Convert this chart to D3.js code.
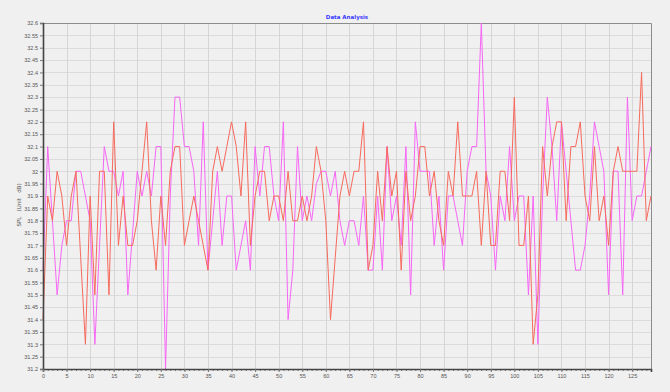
<!DOCTYPE html>
<html>
<head>
<meta charset="utf-8">
<script src="https://cdn.jsdelivr.net/npm/d3@7"></script>
<style>
  html, body { margin: 0; padding: 0; background: #f0f0f0; }
  svg { display: block; }
</style>
</head>
<body>
<div id="container"></div>
<script>
let w = 670;
let h = 392;
let margin = { left: 43, right: 19, top: 23, bottom: 23 };

// data, one value per sample index 0..129
let chartTitle = "Data Analysis";
let yLabel = "SPL   (Unit   dB)";
let yTicks = d3.range(31.2, 32.6001, 0.05);
let xTicks = d3.range(0, 126, 5);

let redSeries = [
  31.4, 31.9, 31.8, 32.0, 31.9, 31.7, 31.9, 32.0, 31.65, 31.3,
  31.9, 31.5, 32.0, 32.0, 31.5, 32.2, 31.7, 31.9, 31.7, 31.7,
  31.8, 32.0, 32.2, 31.8, 31.6, 31.9, 31.7, 32.0, 32.1, 32.1,
  31.7, 31.8, 31.9, 31.8, 31.7, 31.6, 32.0, 32.1, 32.0, 32.1,
  32.2, 32.1, 31.9, 32.2, 31.7, 31.9, 32.0, 32.0, 31.8, 31.9,
  31.9, 31.8, 32.0, 31.8, 31.8, 31.9, 31.8, 31.9, 32.1, 32.0,
  31.8, 31.4, 31.65, 31.9, 32.0, 31.9, 32.0, 32.0, 32.2, 31.6,
  31.7, 32.0, 31.8, 32.1, 31.9, 32.0, 31.6, 32.0, 31.8, 31.9,
  32.1, 32.1, 31.9, 32.0, 31.8, 31.7, 32.0, 31.9, 32.2, 31.9,
  31.9, 31.9, 32.0, 31.7, 32.0, 31.7, 31.7, 32.0, 32.0, 31.8,
  32.3, 31.7, 31.7, 31.9, 31.3, 31.5, 32.1, 31.9, 32.1, 32.2,
  32.2, 31.8, 32.1, 32.1, 32.2, 31.9, 31.8, 32.1, 31.8, 31.9,
  31.7, 32.0, 32.1, 32.0, 32.0, 32.0, 32.0, 32.4, 31.8, 31.9
];

let magentaSeries = [
  31.6, 32.1, 31.8, 31.5, 31.7, 31.8, 31.8, 32.0, 32.0, 31.9,
  31.8, 31.3, 31.7, 32.1, 32.0, 32.0, 31.9, 32.0, 31.5, 31.75,
  32.0, 31.9, 32.0, 31.9, 32.1, 32.1, 31.2, 31.9, 32.3, 32.3,
  32.1, 32.1, 32.0, 31.7, 32.2, 31.6, 31.8, 32.0, 31.7, 31.9,
  31.9, 31.6, 31.7, 31.8, 31.6, 32.1, 31.9, 32.1, 32.1, 31.9,
  31.8, 32.2, 31.4, 31.6, 32.1, 31.8, 31.9, 31.8, 31.95, 32.0,
  32.0, 31.9, 32.0, 31.8, 31.7, 31.8, 31.8, 31.7, 31.9, 31.6,
  31.6, 31.9, 31.6, 32.1, 31.8, 31.9, 31.7, 32.1, 31.5, 32.2,
  32.0, 32.0, 32.0, 31.7, 31.9, 31.6, 31.9, 31.9, 31.8, 31.7,
  32.0, 32.1, 32.1, 32.6, 32.0, 31.9, 31.6, 31.9, 31.8, 32.1,
  31.8, 31.9, 31.9, 31.5, 31.9, 31.3, 31.9, 32.3, 32.1, 31.8,
  32.2, 32.0, 31.8, 31.6, 31.6, 31.7, 31.9, 32.2, 32.1, 32.0,
  31.5, 32.0, 32.0, 31.5, 32.3, 31.8, 31.9, 31.9, 32.0, 32.1
];

let viz = d3.select("#container")
  .append("svg")
  .attr("width", w)
  .attr("height", h)
  .style("font-family", "'DejaVu Sans', sans-serif");

viz.append("rect").attr("width", w).attr("height", h).attr("fill", "#f0f0f0");

let xScale = d3.scaleLinear().domain([0, redSeries.length - 1]).range([margin.left, w - margin.right]);
let yScale = d3.scaleLinear().domain([31.2, 32.6]).range([h - margin.bottom, margin.top]);

// grid
let gridGroup = viz.append("g").attr("class", "grid");
gridGroup.selectAll(".hgrid").data(yTicks).enter().append("line")
  .attr("x1", margin.left).attr("x2", w - margin.right)
  .attr("y1", d => Math.round(yScale(d)) + 0.5).attr("y2", d => Math.round(yScale(d)) + 0.5)
  .attr("stroke", "#dcdcdc").attr("stroke-width", 1);
gridGroup.selectAll(".vgrid").data(xTicks.filter(d => d > 0)).enter().append("line")
  .attr("x1", d => Math.round(xScale(d)) + 0.5).attr("x2", d => Math.round(xScale(d)) + 0.5)
  .attr("y1", margin.top).attr("y2", h - margin.bottom)
  .attr("stroke", "#d6d6d6").attr("stroke-width", 1);

// frame top + right
viz.append("path")
  .attr("d", "M" + margin.left + "," + (margin.top + 0.5) + "H" + (w - margin.right + 0.5) + "V" + (h - margin.bottom))
  .attr("fill", "none").attr("stroke", "#8c8c8c").attr("stroke-width", 1);

// lines
let line = d3.line().x((d, i) => xScale(i)).y(d => yScale(d));
viz.append("path").datum(magentaSeries)
  .attr("d", line).attr("fill", "none")
  .attr("stroke", "#f766f5").attr("stroke-width", 1);
viz.append("path").datum(redSeries)
  .attr("d", line).attr("fill", "none")
  .attr("stroke", "#f66a5c").attr("stroke-width", 1);

// y axis
let yAxis = d3.axisLeft(yScale).tickValues(yTicks).tickSize(3).tickPadding(2)
  .tickFormat(d => d3.format(".2~f")(d));
let yAxisGroup = viz.append("g").attr("class", "yaxis")
  .attr("transform", "translate(" + margin.left + ",0)")
  .call(yAxis);

// x axis, major + minor ticks
let xMinor = d3.axisBottom(xScale).ticks(129).tickValues(d3.range(0, 130)).tickSize(2).tickFormat("");
viz.append("g").attr("class", "xminor")
  .attr("transform", "translate(0," + (h - margin.bottom) + ")")
  .call(xMinor);
let xAxis = d3.axisBottom(xScale).tickValues(xTicks).tickSize(3).tickPadding(2);
let xAxisGroup = viz.append("g").attr("class", "xaxis")
  .attr("transform", "translate(0," + (h - margin.bottom) + ")")
  .call(xAxis);

viz.selectAll(".xaxis text, .yaxis text")
  .attr("font-size", "5.5px").attr("fill", "#555");
viz.selectAll(".tick line").attr("stroke", "#777");
viz.selectAll(".domain").attr("stroke", "#444").attr("stroke-width", 1.6);
viz.select(".xminor .domain").remove();

// title + axis label
viz.append("text")
  .text(chartTitle)
  .attr("x", (margin.left + w - margin.right) / 2)
  .attr("y", 19)
  .attr("text-anchor", "middle")
  .attr("font-size", "5.5px")
  .attr("font-weight", "bold")
  .attr("fill", "#3a3aff");

viz.append("text")
  .text(yLabel)
  .attr("transform", "translate(21,205) rotate(-90)")
  .attr("text-anchor", "middle")
  .attr("font-size", "5.5px")
  .attr("fill", "#555")
  .style("white-space", "pre");
</script>
</body>
</html>
